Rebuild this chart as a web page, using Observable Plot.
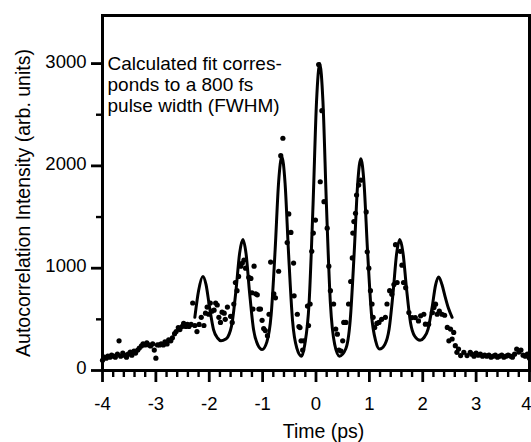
<!DOCTYPE html>
<html><head><meta charset="utf-8">
<script src="https://cdn.jsdelivr.net/npm/d3@7"></script>
<script src="https://cdn.jsdelivr.net/npm/@observablehq/plot@0.6"></script>
<style>html,body{margin:0;padding:0;background:#fff}</style>
</head><body><div id="chart"></div>
<script>
// Calculated fit (solid line)
const fitTime = [-2.27,-2.20,-2.12,-2.06,-1.995,-1.92,-1.84,-1.78,-1.70,-1.65,-1.57,-1.495,-1.43,-1.37,-1.31,-1.245,-1.17,-1.09,-1.01,-0.92,-0.84,-0.765,-0.70,-0.64,-0.58,-0.515,-0.44,-0.36,-0.27,-0.21,-0.13,-0.055,0.01,0.07,0.13,0.195,0.27,0.35,0.44,0.56,0.64,0.715,0.78,0.84,0.90,0.965,1.04,1.12,1.19,1.29,1.37,1.445,1.51,1.57,1.63,1.695,1.77,1.85,1.95,2.02,2.10,2.175,2.24,2.30,2.36,2.42,2.48,2.55];
const fitIntensity = [520,780,920,840,620,400,315,290,305,330,470,805,1150,1280,1140,765,400,250,205,280,545,1185,1845,2090,1835,1155,490,220,140,255,655,1625,2630,3000,2630,1625,655,255,140,215,485,1145,1820,2070,1830,1175,545,285,210,255,405,765,1140,1280,1150,805,470,335,295,320,405,615,835,915,840,720,610,520];

// Measured autocorrelation (dots)
const measuredTime = [-4.00,-3.97,-3.93,-3.90,-3.86,-3.83,-3.79,-3.76,-3.72,-3.69,-3.66,-3.62,-3.59,-3.55,-3.52,-3.48,-3.45,-3.41,-3.38,-3.34,-3.31,-3.27,-3.24,-3.20,-3.17,-3.13,-3.10,-3.06,-3.03,-3.00,-2.97,-2.93,-2.90,-2.86,-2.83,-2.79,-2.76,-2.72,-2.69,-2.65,-2.62,-2.58,-2.55,-2.51,-2.48,-2.44,-2.41,-2.38,-2.34,
 -2.31,-2.27,-2.23,-2.19,-2.15,-2.10,-2.07,-2.04,-2.01,-1.98,-1.95,-1.91,-1.88,-1.85,-1.82,-1.79,-1.76,-1.72,-1.70,-1.66,-1.60,-1.57,-1.54,-1.51,-1.48,-1.45,-1.41,-1.38,-1.35,-1.32,-1.26,-1.22,-1.20,-1.18,-1.16,-1.13,-1.10,-1.07,-1.04,-1.01,-0.98,-0.95,-0.91,-0.88,-0.85,-0.79,-0.76,-0.70,-0.66,-0.62,
 -0.54,-0.51,-0.47,-0.42,-0.41,-0.35,-0.32,-0.30,-0.28,-0.25,-0.23,-0.16,-0.14,-0.11,-0.08,-0.05,-0.01,0.05,0.08,0.11,0.15,0.21,0.24,0.27,0.33,0.37,0.40,0.43,0.47,0.50,0.52,0.56,0.61,0.65,0.68,0.69,0.71,0.74,0.76,0.80,0.84,
 0.94,0.96,0.99,1.02,1.05,1.07,1.10,1.14,1.18,1.23,1.30,1.33,1.38,1.42,1.46,1.49,1.52,1.58,1.61,1.64,1.68,1.74,1.80,1.86,1.92,1.96,2.02,2.05,2.11,2.18,2.21,2.24,2.27,2.31,2.36,2.41,2.46,2.49,2.52,2.55,2.58,2.61,2.64,2.67,2.71,2.77,2.83,2.89,
 2.92,2.96,3.00,3.04,3.08,3.12,3.16,3.20,3.24,3.28,3.32,3.36,3.40,3.44,3.48,3.52,3.56,3.60,3.64,3.68,3.72,3.76,3.80,3.84,3.88,3.92,3.96,4.00];
const measuredIntensity = [100,130,120,140,130,150,140,130,160,290,140,170,150,130,160,180,150,190,170,200,220,240,260,250,270,250,240,260,200,120,250,250,260,250,280,260,300,290,320,360,380,420,400,430,460,430,450,430,450,
 660,440,380,450,520,440,560,620,550,660,580,590,660,640,520,470,570,560,500,620,530,470,650,860,780,920,1020,1050,1080,1000,910,900,760,600,1020,750,740,600,600,490,410,390,340,550,1060,750,710,970,2100,2270,
 1250,1530,1350,1050,730,550,430,420,290,200,290,630,440,650,1165,1343,1470,2990,1845,2540,1650,1391,1020,780,650,405,355,200,190,290,470,470,650,870,1100,1343,1456,1537,1715,1812,1860,
 1550,1160,1000,780,650,520,420,460,470,500,520,650,780,745,840,1230,860,1165,1030,860,810,566,517,517,485,534,550,453,453,566,615,648,550,580,550,540,421,290,405,308,372,243,178,210,146,178,146,178,
 160,140,170,150,160,140,150,140,150,130,140,150,130,140,150,130,140,150,140,130,160,210,180,200,150,140,160,120];

const xMajorTicks = [-4,-3,-2,-1,0,1,2,3,4];
const xMinorTicks = d3.range(-40, 41, 2).filter(d => d % 10 !== 0).map(d => d / 10);
const yMajorTicks = [0,1000,2000,3000];
const yMinorTicks = [500,1500,2500];

const xTitle = "Time (ps)";
const yTitle = "Autocorrelation Intensity (arb. units)";
const note = "Calculated fit corres-\nponds to a 800 fs\npulse width (FWHM)";

const fit = fitTime.map((t, i) => ({t, v: fitIntensity[i]}));
const measured = measuredTime.map((t, i) => ({t, v: measuredIntensity[i]}));

const W = 531, H = 442, ML = 102, MR = 2, MT = 15, MB = 72;
const frameW = W - ML - MR, frameH = H - MT - MB;
const FONT = "'Liberation Sans', Arial, Helvetica, sans-serif";

const chart = Plot.plot({
  width: W, height: H,
  marginLeft: ML, marginRight: MR, marginTop: MT, marginBottom: MB,
  style: {fontFamily: FONT},
  x: {domain: [-4, 4], axis: null},
  y: {domain: [0, 3470], axis: null},
  marks: [
    Plot.line(fit, {x: "t", y: "v", curve: "monotone-x", stroke: "black", strokeWidth: 3}),
    Plot.dot(measured, {x: "t", y: "v", r: 2.6, fill: "black"}),
    Plot.text([note], {text: d => d, frameAnchor: "top-left", textAnchor: "start", lineAnchor: "top", dx: 5, dy: 38.8, lineHeight: 1.13, fontSize: 19, fill: "black"}),
    Plot.text([yTitle], {text: d => d, frameAnchor: "left", rotate: -90, textAnchor: "middle", lineAnchor: "middle", dx: -79, dy: 10, fontSize: 19.5, fill: "black"}),
    Plot.text([xTitle], {text: d => d, frameAnchor: "bottom", textAnchor: "middle", lineAnchor: "middle", dx: 7.5, dy: 61, fontSize: 19.5, fill: "black"}),
    Plot.text(xMajorTicks.slice(0, -1), {x: d => d, text: d => String(d), frameAnchor: "bottom", lineAnchor: "top", dy: 26.5, fontSize: 18.5, fill: "black"}),
    Plot.text(xMajorTicks.slice(-1), {x: d => d, text: d => String(d), frameAnchor: "bottom", lineAnchor: "top", textAnchor: "end", dx: 2, dy: 26.5, fontSize: 18.5, fill: "black"}),
    Plot.text(yMajorTicks, {y: d => d, text: d => String(d), frameAnchor: "left", textAnchor: "end", dx: -16, dy: -2, fontSize: 18.5, fill: "black"}),
    Plot.ruleX(xMinorTicks, {x: d => d, insetTop: frameH - 7, dy: 7, stroke: "black", strokeWidth: 2.4}),
    Plot.ruleX(xMajorTicks, {x: d => d, insetTop: frameH - 12, dy: 12, stroke: "black", strokeWidth: 2.8}),
    Plot.ruleY(yMinorTicks, {y: d => d, insetRight: frameW - 6, dx: -6, stroke: "black", strokeWidth: 2.4}),
    Plot.ruleY(yMajorTicks, {y: d => d, insetRight: frameW - 11, dx: -11, stroke: "black", strokeWidth: 2.8}),
    Plot.frame({stroke: "black", strokeWidth: 3})
  ]
});
document.getElementById("chart").appendChild(chart);
</script>
</body></html>
